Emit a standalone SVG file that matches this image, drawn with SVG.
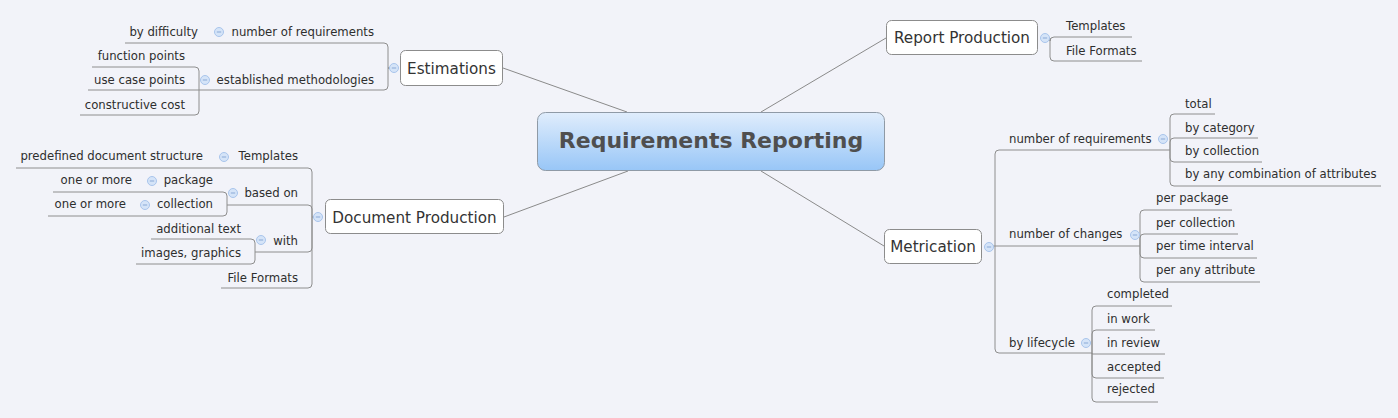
<svg xmlns="http://www.w3.org/2000/svg" width="1398" height="418" viewBox="0 0 1398 418">
<defs>
<linearGradient id="cg" x1="0" y1="0" x2="0" y2="1">
<stop offset="0" stop-color="#e0edfc"/>
<stop offset="1" stop-color="#98c6f7"/>
</linearGradient>
<g id="tog"><circle cx="0" cy="0" r="4.5" fill="#d5e4f8" stroke="#a9c5ec" stroke-width="1"/><line x1="-2.2" y1="0" x2="2.2" y2="0" stroke="#8aa9d6" stroke-width="1"/></g>
</defs>
<style>
.bg{fill:#f2f3f9}
.ln{fill:none;stroke:#8e8e8e;stroke-width:1}
.cn{fill:none;stroke:#8a8a8a;stroke-width:1}
.box{fill:#ffffff;stroke:#8c8c8c;stroke-width:1}
.t{font-family:"DejaVu Sans",Verdana,sans-serif;font-size:11.7px;fill:#2e2e2e}
.e{text-anchor:end}
.tp{font-family:"DejaVu Sans",Verdana,sans-serif;font-size:15.2px;fill:#333333;text-anchor:middle}
.ct{font-family:"DejaVu Sans",Verdana,sans-serif;font-size:22px;font-weight:bold;fill:#4f4f4f;text-anchor:middle}
</style>
<rect class="bg" x="0" y="0" width="1398" height="418"/>

<g id="connectors">
<path class="cn" d="M627,112 L503,68"/>
<path class="cn" d="M761,112 L886,38"/>
<path class="cn" d="M628,171 L504,217"/>
<path class="cn" d="M761,171 L884,246"/>
<!-- Estimations -->
<path class="ln" d="M392,68 H388 V47 Q388,43 384,43 H125"/>
<path class="ln" d="M392,68 H388 V86 Q388,90 384,90 H199"/>
<path class="ln" d="M199,90 V71 Q199,67 195,67 H92"/>
<path class="ln" d="M199,90 H88"/>
<path class="ln" d="M199,90 V111 Q199,115 195,115 H80"/>
<!-- Document Production -->
<path class="ln" d="M316,217 H312 V172 Q312,168 308,168 H16"/>
<path class="ln" d="M312,217 V209 Q312,205 308,205 H227"/>
<path class="ln" d="M312,217 V248 Q312,252 308,252 H255"/>
<path class="ln" d="M312,217 V284 Q312,288 308,288 H221"/>
<path class="ln" d="M227,205 V196 Q227,192 223,192 H53"/>
<path class="ln" d="M227,205 V212 Q227,216 223,216 H48"/>
<path class="ln" d="M255,252 V243 Q255,239 251,239 H151"/>
<path class="ln" d="M255,252 V260 Q255,264 251,264 H136"/>
<!-- Report Production -->
<path class="ln" d="M1047,38 H1050 V41 Q1050,37 1054,37 H1132"/>
<path class="ln" d="M1050,38 V57 Q1050,61 1054,61 H1142"/>
<!-- Metrication -->
<path class="ln" d="M991,246 H1140"/>
<path class="ln" d="M995,246 V154 Q995,150 999,150 H1170"/>
<path class="ln" d="M995,246 V349 Q995,353 999,353 H1092"/>
<path class="ln" d="M1170,150 V118 Q1170,114 1174,114 H1215"/>
<path class="ln" d="M1170,150 V142 Q1170,138 1174,138 H1258"/>
<path class="ln" d="M1170,150 V158 Q1170,162 1174,162 H1262"/>
<path class="ln" d="M1170,150 V182 Q1170,186 1174,186 H1381"/>
<path class="ln" d="M1140,246 V214 Q1140,210 1144,210 H1232"/>
<path class="ln" d="M1140,246 V238 Q1140,234 1144,234 H1238"/>
<path class="ln" d="M1140,246 V254 Q1140,258 1144,258 H1257"/>
<path class="ln" d="M1140,246 V278 Q1140,282 1144,282 H1260"/>
<path class="ln" d="M1092,353 V310 Q1092,306 1096,306 H1172"/>
<path class="ln" d="M1092,353 V334 Q1092,330 1096,330 H1155"/>
<path class="ln" d="M1092,353 V354 Q1092,354 1096,354 H1165"/>
<path class="ln" d="M1092,353 V374 Q1092,378 1096,378 H1164"/>
<path class="ln" d="M1092,353 V398 Q1092,402 1096,402 H1158"/>
</g>

<g id="central">
<rect x="537.5" y="112.5" width="347" height="58" rx="8" fill="url(#cg)" stroke="#8f9aa6"/>
<text class="ct" x="711" y="148">Requirements Reporting</text>
</g>

<g id="estimations">
<rect class="box" x="400.5" y="50.5" width="102" height="35" rx="5"/>
<text class="tp" x="451.5" y="74">Estimations</text>
<use href="#tog" x="394" y="68"/>
</g>
<g id="est-numreq">
<text class="t e" x="374" y="36">number of requirements</text>
<use href="#tog" x="219" y="32"/>
</g>
<g id="est-bydiff"><text class="t e" x="198" y="36">by difficulty</text></g>
<g id="est-method">
<text class="t e" x="374" y="84">established methodologies</text>
<use href="#tog" x="205" y="80"/>
</g>
<g id="est-fp"><text class="t e" x="185" y="60">function points</text></g>
<g id="est-ucp"><text class="t e" x="185" y="84">use case points</text></g>
<g id="est-cc"><text class="t e" x="185" y="109">constructive cost</text></g>

<g id="docprod">
<rect class="box" x="325.5" y="199.5" width="178" height="34" rx="5"/>
<text class="tp" x="414.5" y="223">Document Production</text>
<use href="#tog" x="318" y="217"/>
</g>
<g id="dp-templates">
<text class="t e" x="298" y="160">Templates</text>
<use href="#tog" x="224" y="157"/>
</g>
<g id="dp-predef"><text class="t e" x="203" y="160">predefined document structure</text></g>
<g id="dp-basedon">
<text class="t e" x="298" y="197">based on</text>
<use href="#tog" x="233" y="193"/>
</g>
<g id="dp-package">
<text class="t e" x="213" y="184">package</text>
<use href="#tog" x="152" y="181"/>
</g>
<g id="dp-oom1"><text class="t e" x="132" y="184">one or more</text></g>
<g id="dp-collection">
<text class="t e" x="213" y="208">collection</text>
<use href="#tog" x="145" y="205"/>
</g>
<g id="dp-oom2"><text class="t e" x="126" y="208">one or more</text></g>
<g id="dp-with">
<text class="t e" x="298" y="245">with</text>
<use href="#tog" x="261" y="240"/>
</g>
<g id="dp-addtext"><text class="t e" x="241" y="233">additional text</text></g>
<g id="dp-images"><text class="t e" x="241" y="257">images, graphics</text></g>
<g id="dp-fileformats"><text class="t e" x="298" y="282">File Formats</text></g>

<g id="repprod">
<rect class="box" x="886.5" y="20.5" width="151" height="34" rx="5"/>
<text class="tp" x="962" y="43">Report Production</text>
<use href="#tog" x="1045" y="38"/>
</g>
<g id="rp-templates"><text class="t" x="1066" y="30">Templates</text></g>
<g id="rp-fileformats"><text class="t" x="1066" y="55">File Formats</text></g>

<g id="metrication">
<rect class="box" x="884.5" y="229.5" width="97" height="34" rx="5"/>
<text class="tp" x="933" y="252">Metrication</text>
<use href="#tog" x="989" y="247"/>
</g>
<g id="m-numreq">
<text class="t" x="1009" y="143">number of requirements</text>
<use href="#tog" x="1163" y="139"/>
</g>
<g id="m-total"><text class="t" x="1185" y="108">total</text></g>
<g id="m-bycat"><text class="t" x="1185" y="132">by category</text></g>
<g id="m-bycoll"><text class="t" x="1185" y="155">by collection</text></g>
<g id="m-byany"><text class="t" x="1185" y="178">by any combination of attributes</text></g>
<g id="m-numchg">
<text class="t" x="1009" y="238">number of changes</text>
<use href="#tog" x="1135" y="235"/>
</g>
<g id="m-perpkg"><text class="t" x="1156" y="202">per package</text></g>
<g id="m-percoll"><text class="t" x="1156" y="227">per collection</text></g>
<g id="m-pertime"><text class="t" x="1156" y="250">per time interval</text></g>
<g id="m-perattr"><text class="t" x="1156" y="274">per any attribute</text></g>
<g id="m-lifecycle">
<text class="t" x="1009" y="347">by lifecycle</text>
<use href="#tog" x="1086" y="343"/>
</g>
<g id="m-completed"><text class="t" x="1107" y="298">completed</text></g>
<g id="m-inwork"><text class="t" x="1107" y="323">in work</text></g>
<g id="m-inreview"><text class="t" x="1107" y="347">in review</text></g>
<g id="m-accepted"><text class="t" x="1107" y="371">accepted</text></g>
<g id="m-rejected"><text class="t" x="1107" y="393">rejected</text></g>
</svg>
